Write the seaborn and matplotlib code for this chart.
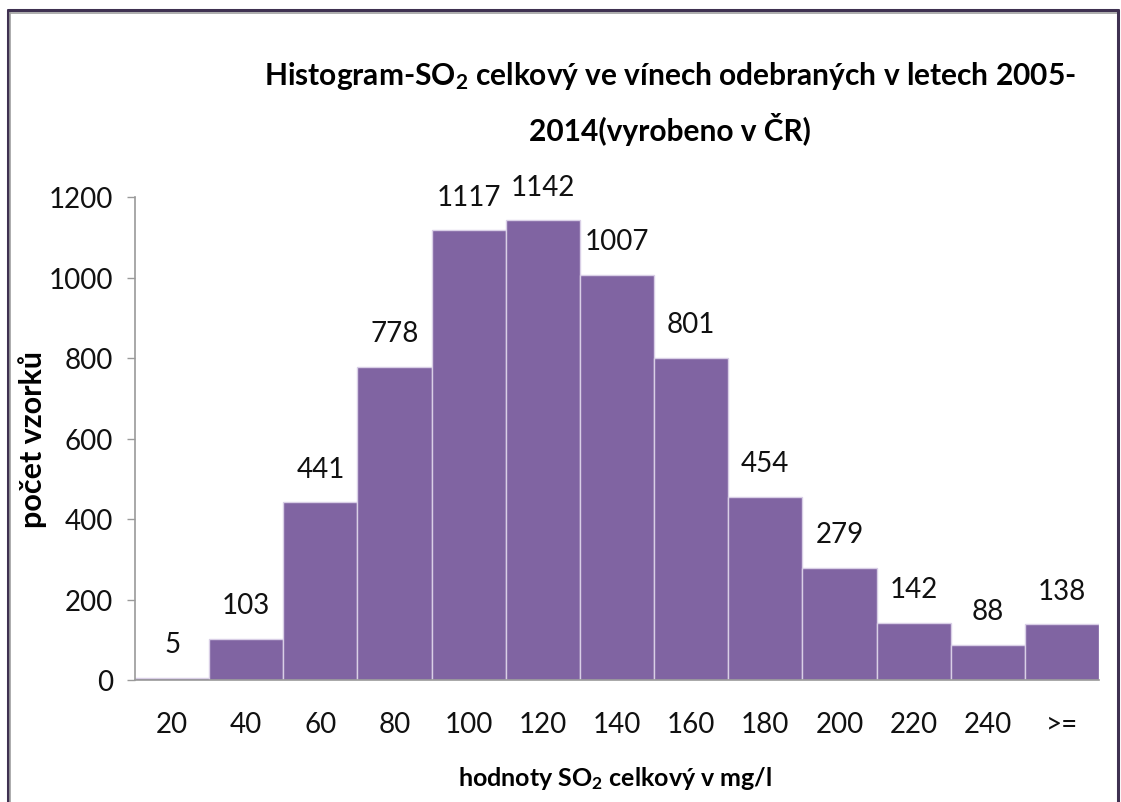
import matplotlib
matplotlib.use("Agg")
import matplotlib.pyplot as plt
import seaborn as sns
import pandas as pd
from matplotlib.lines import Line2D

categories = ["20", "40", "60", "80", "100", "120", "140", "160", "180", "200", "220", "240", ">="]
counts = [5, 103, 441, 778, 1117, 1142, 1007, 801, 454, 279, 142, 88, 138]
y_ticks = [0, 200, 400, 600, 800, 1000, 1200]

title = "Histogram-SO$_2$ celkový ve vínech odebraných v letech 2005-\n2014(vyrobeno v ČR)"
xlabel = "hodnoty SO$_2$ celkový v mg/l"
ylabel = "počet vzorků"

sns.set_style("white")
plt.rcParams["font.family"] = ["Lato", "DejaVu Sans"]
plt.rcParams["text.color"] = "black"
plt.rcParams["xtick.color"] = "black"
plt.rcParams["ytick.color"] = "black"
plt.rcParams["mathtext.fontset"] = "custom"
plt.rcParams["mathtext.rm"] = "Lato"
plt.rcParams["mathtext.bf"] = "Lato:bold"
plt.rcParams["mathtext.default"] = "bf"

df = pd.DataFrame({"cat": categories, "count": counts})

fig = plt.figure(figsize=(11.21, 8.03), dpi=100)
ax = fig.add_axes([135/1121, 1 - 681/803, (1099 - 135)/1121, (681 - 198)/803])

sns.barplot(data=df, x="cat", y="count", order=categories, color="#8064A2",
            saturation=1, width=1.0, edgecolor="#D9CFE6", linewidth=1.0, ax=ax)

ax.set_ylim(0, 1200)
ax.set_yticks(y_ticks)
ax.set_xlim(-0.5, len(categories) - 0.5)
for c in ax.containers:
    ax.bar_label(c, labels=[str(v) for v in counts], padding=15, fontsize=20, color="#111111")

for s in ["top", "right"]:
    ax.spines[s].set_visible(False)
for s in ["left", "bottom"]:
    ax.spines[s].set_color("#9A9A9A")
    ax.spines[s].set_linewidth(1.2)

ax.tick_params(axis="y", length=6, width=1, color="#9A9A9A", pad=10, labelsize=20, left=True, labelcolor="#111111")
ax.tick_params(axis="x", length=0, pad=22, labelsize=20, labelcolor="#111111")
ax.set_xlabel("")
ax.set_ylabel("")

fig.text(615/1121, 1 - 779/803, xlabel, ha="center", va="center", fontsize=18, fontweight="bold")
fig.text(33/1121, 1 - 440/803, ylabel, ha="center", va="center", rotation=90, fontsize=22, fontweight="bold")
fig.text(670/1121, 1 - 103/803, title, ha="center", va="center", fontsize=21.5, fontweight="bold", linespacing=1.75)

# chart frame
fig.add_artist(Line2D([8/1121, 8/1121], [0, 1 - 11/803], transform=fig.transFigure, color="#3F3151", lw=2.2))
fig.add_artist(Line2D([10/1121, 10/1121], [0, 1 - 13/803], transform=fig.transFigure, color="#A0A0A0", lw=1.2))
fig.add_artist(Line2D([8/1121, 1118/1121], [1 - 11/803, 1 - 11/803], transform=fig.transFigure, color="#3F3151", lw=2.2))
fig.add_artist(Line2D([10/1121, 1118/1121], [1 - 14/803, 1 - 14/803], transform=fig.transFigure, color="#A0A0A0", lw=1.2))
fig.add_artist(Line2D([1118/1121, 1118/1121], [0, 1 - 11/803], transform=fig.transFigure, color="#3F3151", lw=2.2))

fig.savefig("out.png", dpi=100)
